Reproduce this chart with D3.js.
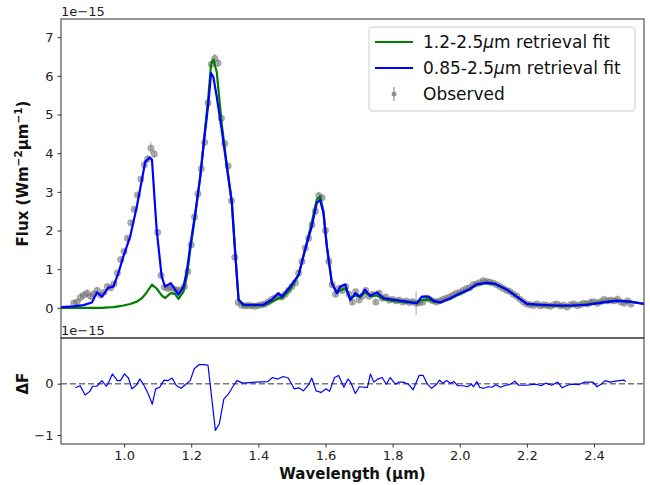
<!DOCTYPE html>
<html>
<head>
<meta charset="utf-8">
<script src="https://cdn.jsdelivr.net/npm/d3@7"></script>
<style>
  body { margin: 0; background: #fff; }
  svg { display: block; font-family: "DejaVu Sans", sans-serif; }
</style>
</head>
<body>
<div id="chart"></div>
<script>
// Data (flux in units of 1e-15 W m^-2 um^-1)

const obsWl = [
  0.85, 0.86, 0.87, 0.88, 0.89, 0.90, 0.91, 0.92, 0.93, 0.94,
  0.95, 0.96, 0.97, 0.98, 0.99, 1.00, 1.01, 1.02, 1.03, 1.04,
  1.05, 1.06, 1.07, 1.08, 1.09, 1.10, 1.11, 1.12, 1.13, 1.14,
  1.15, 1.16, 1.17, 1.18, 1.19, 1.20, 1.21, 1.22, 1.23, 1.24,
  1.25, 1.26, 1.27, 1.28, 1.29, 1.30, 1.31, 1.32, 1.33, 1.34,
  1.35, 1.36, 1.37, 1.38, 1.39, 1.40, 1.41, 1.42, 1.43, 1.44,
  1.45, 1.46, 1.47, 1.48, 1.49, 1.50, 1.51, 1.52, 1.53, 1.54,
  1.55, 1.56, 1.57, 1.58, 1.59, 1.60, 1.61, 1.62, 1.63, 1.64,
  1.65, 1.66, 1.67, 1.68, 1.69, 1.70, 1.71, 1.72, 1.73, 1.74,
  1.75, 1.76, 1.77, 1.78, 1.79, 1.80, 1.81, 1.82, 1.83, 1.84,
  1.85, 1.86, 1.87, 1.88, 1.89, 1.90, 1.91, 1.92, 1.93, 1.94,
  1.95, 1.96, 1.97, 1.98, 1.99, 2.00, 2.01, 2.02, 2.03, 2.04,
  2.05, 2.06, 2.07, 2.08, 2.09, 2.10, 2.11, 2.12, 2.13, 2.14,
  2.15, 2.16, 2.17, 2.18, 2.19, 2.20, 2.21, 2.22, 2.23, 2.24,
  2.25, 2.26, 2.27, 2.28, 2.29, 2.30, 2.31, 2.32, 2.33, 2.34,
  2.35, 2.36, 2.37, 2.38, 2.39, 2.40, 2.41, 2.42, 2.43, 2.44,
  2.45, 2.46, 2.47, 2.48, 2.49, 2.50, 2.51
];

const obsFlux = [
  0.12, 0.15, 0.27, 0.33, 0.38, 0.30, 0.36, 0.45, 0.33, 0.40,
  0.55, 0.52, 0.62, 0.90, 1.25, 1.46, 1.80, 2.20, 2.55, 2.92,
  3.33, 3.70, 3.85, 4.13, 3.98, 1.95, 0.84, 0.53, 0.50, 0.52,
  0.48, 0.45, 0.47, 0.55, 0.94, 1.63, 2.35, 2.95, 3.60, 4.28,
  5.30, 6.30, 6.45, 6.33, 4.90, 4.25, 3.67, 2.77, 1.31, 0.14,
  0.07, 0.05, 0.06, 0.05, 0.04, 0.06, 0.08, 0.10, 0.15, 0.22,
  0.26, 0.30, 0.28, 0.35, 0.45, 0.55, 0.65, 0.90, 1.20, 1.55,
  1.80, 2.15, 2.50, 2.90, 2.85, 2.00, 1.20, 0.60, 0.35, 0.50,
  0.45, 0.55, 0.35, 0.15, 0.42, 0.20, 0.30, 0.45, 0.30, 0.35,
  0.15, 0.38, 0.25, 0.28, 0.20, 0.22, 0.18, 0.20, 0.15, 0.18,
  0.14, 0.16, 0.12, 0.13, 0.15, 0.25, 0.22, 0.18, 0.15, 0.18,
  0.22, 0.25, 0.28, 0.33, 0.38, 0.40, 0.45, 0.50, 0.52, 0.60,
  0.62, 0.65, 0.70, 0.68, 0.66, 0.64, 0.60, 0.55, 0.50, 0.45,
  0.42, 0.35, 0.30, 0.22, 0.15, 0.10, 0.08, 0.06, 0.10, 0.05,
  0.08, 0.06, 0.04, 0.08, 0.10, 0.05, 0.07, 0.02, 0.08, 0.10,
  0.06, 0.08, 0.12, 0.10, 0.14, 0.16, 0.12, 0.16, 0.22, 0.18,
  0.20, 0.18, 0.22, 0.15, 0.12, 0.18, 0.10
];

const obsErr = [
  0.08, 0.08, 0.10, 0.10, 0.10, 0.08, 0.08, 0.08, 0.06, 0.06,
  0.05, 0.05, 0.05, 0.05, 0.05, 0.05, 0.05, 0.05, 0.05, 0.05,
  0.06, 0.08, 0.10, 0.15, 0.10, 0.06, 0.05, 0.05, 0.05, 0.05,
  0.05, 0.05, 0.05, 0.05, 0.05, 0.05, 0.05, 0.05, 0.05, 0.05,
  0.08, 0.10, 0.12, 0.10, 0.08, 0.06, 0.06, 0.05, 0.05, 0.05,
  0.04, 0.04, 0.04, 0.04, 0.04, 0.04, 0.04, 0.04, 0.04, 0.04,
  0.05, 0.05, 0.05, 0.05, 0.05, 0.05, 0.05, 0.05, 0.05, 0.05,
  0.05, 0.05, 0.06, 0.10, 0.08, 0.05, 0.05, 0.05, 0.05, 0.05,
  0.05, 0.05, 0.05, 0.05, 0.05, 0.05, 0.05, 0.05, 0.05, 0.05,
  0.05, 0.05, 0.05, 0.05, 0.05, 0.05, 0.05, 0.05, 0.05, 0.05,
  0.05, 0.05, 0.30, 0.05, 0.05, 0.05, 0.05, 0.05, 0.05, 0.05,
  0.04, 0.04, 0.04, 0.04, 0.04, 0.04, 0.04, 0.04, 0.04, 0.04,
  0.04, 0.04, 0.04, 0.04, 0.04, 0.04, 0.04, 0.04, 0.04, 0.04,
  0.04, 0.04, 0.04, 0.04, 0.04, 0.04, 0.04, 0.04, 0.04, 0.04,
  0.04, 0.04, 0.04, 0.04, 0.04, 0.04, 0.04, 0.04, 0.04, 0.04,
  0.04, 0.04, 0.04, 0.04, 0.10, 0.04, 0.04, 0.04, 0.04, 0.04,
  0.04, 0.04, 0.10, 0.04, 0.04, 0.04, 0.04
];

const modelWl = [
  0.812, 0.850, 0.879, 0.904, 0.919, 0.934, 0.953, 0.968, 0.983, 0.998,
  1.018, 1.038, 1.053, 1.063, 1.077, 1.083, 1.097, 1.112, 1.122, 1.139,
  1.152, 1.162, 1.177, 1.187, 1.197, 1.212, 1.227, 1.238, 1.251, 1.259,
  1.266, 1.276, 1.291, 1.306, 1.321, 1.331, 1.341, 1.356, 1.415, 1.440,
  1.460, 1.470, 1.495, 1.520, 1.539, 1.559, 1.574, 1.584, 1.594, 1.604,
  1.619, 1.634, 1.644, 1.659, 1.674, 1.689, 1.703, 1.718, 1.733, 1.753,
  1.773, 1.803, 1.843, 1.872, 1.887, 1.907, 1.922, 1.942, 1.972, 2.001,
  2.026, 2.051, 2.081, 2.106, 2.141, 2.170, 2.200, 2.240, 2.290, 2.339,
  2.379, 2.429, 2.468, 2.508, 2.549
];

// 0.85-2.5um retrieval fit
const fitFull = [
  0.02, 0.04, 0.07, 0.14, 0.40, 0.29, 0.52, 0.55, 0.90, 1.33,
  1.84, 2.62, 3.31, 3.78, 3.89, 3.83, 2.02, 0.81, 0.55, 0.64,
  0.47, 0.34, 0.55, 0.95, 1.59, 2.45, 3.40, 4.30, 5.29, 6.07,
  5.97, 5.46, 4.60, 3.65, 2.71, 1.41, 0.21, 0.08, 0.08, 0.21,
  0.38, 0.29, 0.55, 0.85, 1.50, 2.10, 2.71, 2.79, 2.45, 1.59,
  0.64, 0.38, 0.55, 0.60, 0.20, 0.38, 0.29, 0.47, 0.31, 0.40,
  0.25, 0.21, 0.16, 0.12, 0.29, 0.29, 0.18, 0.14, 0.25, 0.38,
  0.47, 0.61, 0.65, 0.62, 0.47, 0.29, 0.10, 0.08, 0.06, 0.06,
  0.08, 0.14, 0.18, 0.16, 0.10
];

// 1.2-2.5um retrieval fit
const fitRed = [
  0.00, 0.00, 0.00, 0.00, 0.00, 0.00, 0.01, 0.02, 0.04, 0.06,
  0.10, 0.16, 0.25, 0.35, 0.52, 0.60, 0.50, 0.32, 0.25, 0.38,
  0.36, 0.23, 0.42, 0.81, 1.50, 2.40, 3.40, 4.35, 5.45, 6.30,
  6.42, 6.10, 4.75, 3.70, 2.75, 1.45, 0.21, 0.06, 0.06, 0.15,
  0.25, 0.25, 0.48, 0.85, 1.50, 2.20, 2.80, 2.88, 2.50, 1.60,
  0.65, 0.38, 0.45, 0.50, 0.25, 0.32, 0.28, 0.40, 0.30, 0.32,
  0.22, 0.18, 0.14, 0.12, 0.20, 0.22, 0.16, 0.14, 0.24, 0.36,
  0.46, 0.60, 0.64, 0.61, 0.47, 0.29, 0.10, 0.07, 0.05, 0.06,
  0.09, 0.15, 0.19, 0.16, 0.10
];

// Residual of the 0.85-2.5um fit
const resWl = [
  0.855, 0.869, 0.884, 0.898, 0.906, 0.919, 0.934, 0.947, 0.953, 0.965,
  0.980, 0.989, 1.001, 1.013, 1.023, 1.035, 1.047, 1.060, 1.072, 1.084,
  1.094, 1.106, 1.119, 1.131, 1.143, 1.156, 1.170, 1.182, 1.197, 1.209,
  1.223, 1.238, 1.250, 1.272, 1.284, 1.297, 1.311, 1.323, 1.336, 1.354,
  1.391, 1.428, 1.442, 1.458, 1.474, 1.489, 1.507, 1.520, 1.534, 1.550,
  1.559, 1.572, 1.587, 1.602, 1.612, 1.627, 1.639, 1.655, 1.667, 1.675,
  1.689, 1.701, 1.716, 1.725, 1.734, 1.744, 1.756, 1.769, 1.781, 1.793,
  1.808, 1.818, 1.832, 1.847, 1.861, 1.879, 1.891, 1.904, 1.916, 1.931,
  1.940, 1.949, 1.961, 1.973, 1.983, 1.994, 2.010, 2.023, 2.035, 2.041,
  2.051, 2.059, 2.071, 2.084, 2.096, 2.108, 2.121, 2.133, 2.151, 2.164,
  2.176, 2.200, 2.225, 2.243, 2.256, 2.274, 2.292, 2.305, 2.321, 2.335,
  2.354, 2.372, 2.397, 2.409, 2.421, 2.433, 2.448, 2.464, 2.476, 2.489,
  2.495
];

const resVal = [
  -0.08, -0.04, -0.22, -0.15, -0.05, -0.05, 0.06, -0.05, 0.01, 0.19,
  0.06, 0.06, 0.19, 0.11, -0.10, -0.04, 0.09, -0.04, -0.20, -0.40,
  -0.10, -0.07, 0.07, 0.06, 0.11, -0.04, -0.09, -0.02, 0.06, 0.29,
  0.37, 0.37, 0.36, -0.91, -0.78, -0.30, -0.20, -0.07, 0.06, 0.01,
  0.03, 0.04, 0.12, 0.09, 0.14, 0.11, -0.10, -0.08, -0.14, -0.02,
  0.11, -0.14, -0.17, -0.10, -0.15, 0.12, 0.16, -0.07, 0.09, 0.03,
  -0.19, -0.06, -0.07, -0.07, 0.19, 0.03, 0.09, 0.12, -0.01, 0.12,
  -0.01, 0.03, 0.03, -0.01, -0.12, 0.16, 0.16, -0.01, -0.09, -0.01,
  0.07, 0.01, 0.06, 0.01, 0.04, -0.04, -0.04, -0.06, -0.01, -0.06,
  0.04, -0.07, -0.09, -0.06, -0.07, -0.02, -0.07, -0.04, -0.01, 0.05,
  -0.03, -0.03, -0.01, -0.04, 0.01, -0.03, 0.03, -0.08, -0.03, -0.01,
  -0.02, 0.03, 0.03, -0.06, -0.01, 0.06, 0.03, 0.05, 0.06, 0.07,
  0.04
];

// Axis settings

const xDomain = [0.812, 2.549];
const fluxDomain = [-0.78, 7.47];
const resDomain = [-1.175, 0.89];
const wlTicks = [1.0, 1.2, 1.4, 1.6, 1.8, 2.0, 2.2, 2.4];
const fluxTicks = [0, 1, 2, 3, 4, 5, 6, 7];
const resTicks = [-1, 0];

const legendItems = [
  { label: "1.2-2.5", color: "#007f00", kind: "line" },
  { label: "0.85-2.5", color: "#0000ff", kind: "line" },
  { label: "Observed", color: "#808080", kind: "err" }
];

// Config

const width = 650;
const height = 485;
const left = 61, right = 644;
const topPanel = { y0: 19, y1: 338 };
const botPanel = { y0: 338, y1: 444 };
const minus = s => s.replace("-", "\u2212");

const svg = d3.select("#chart")
  .append("svg")
  .attr("width", width)
  .attr("height", height)
  .attr("viewBox", [0, 0, width, height]);

// Scales

const xScale = d3.scaleLinear().domain(xDomain).range([left, right]);
const yFlux = d3.scaleLinear().domain(fluxDomain).range([topPanel.y1, topPanel.y0]);
const yRes = d3.scaleLinear().domain(resDomain).range([botPanel.y1, botPanel.y0]);

svg.append("clipPath").attr("id", "clipTop")
  .append("rect").attr("x", left).attr("y", topPanel.y0)
  .attr("width", right - left).attr("height", topPanel.y1 - topPanel.y0);
svg.append("clipPath").attr("id", "clipBot")
  .append("rect").attr("x", left).attr("y", botPanel.y0)
  .attr("width", right - left).attr("height", botPanel.y1 - botPanel.y0);

// Top panel: observed spectrum

const obs = obsWl.map((w, i) => ({ w: w, f: obsFlux[i], e: obsErr[i] }));

const gTop = svg.append("g").attr("clip-path", "url(#clipTop)");

gTop.selectAll("line.err")
  .data(obs)
  .join("line")
  .attr("class", "err")
  .attr("x1", d => xScale(d.w)).attr("x2", d => xScale(d.w))
  .attr("y1", d => yFlux(d.f - d.e)).attr("y2", d => yFlux(d.f + d.e))
  .attr("stroke", "#808080")
  .attr("stroke-opacity", 0.7)
  .attr("stroke-width", 1);

gTop.selectAll("circle.dot")
  .data(obs)
  .join("circle")
  .attr("class", "dot")
  .attr("cx", d => xScale(d.w))
  .attr("cy", d => yFlux(d.f))
  .attr("r", 3.2)
  .attr("fill", "#707070")
  .attr("fill-opacity", 0.55)
  .attr("stroke", "#505050")
  .attr("stroke-opacity", 0.35)
  .attr("stroke-width", 0.8);

// Model fits

const fitLine = d3.line()
  .x(d => xScale(d[0]))
  .y(d => yFlux(d[1]));

gTop.append("path")
  .datum(modelWl.map((w, i) => [w, fitRed[i]]))
  .attr("d", fitLine)
  .attr("fill", "none")
  .attr("stroke", legendItems[0].color)
  .attr("stroke-width", 2.2)
  .attr("stroke-linejoin", "round");

gTop.append("path")
  .datum(modelWl.map((w, i) => [w, fitFull[i]]))
  .attr("d", fitLine)
  .attr("fill", "none")
  .attr("stroke", legendItems[1].color)
  .attr("stroke-width", 2.2)
  .attr("stroke-linejoin", "round");

// Bottom panel: residuals

const gBot = svg.append("g").attr("clip-path", "url(#clipBot)");

gBot.append("line")
  .attr("x1", left).attr("x2", right)
  .attr("y1", yRes(0)).attr("y2", yRes(0))
  .attr("stroke", "#777")
  .attr("stroke-width", 1.5)
  .attr("stroke-dasharray", "6,3");

gBot.append("path")
  .datum(resWl.map((w, i) => [w, resVal[i]]))
  .attr("d", d3.line().x(d => xScale(d[0])).y(d => yRes(d[1])))
  .attr("fill", "none")
  .attr("stroke", "#0000ff")
  .attr("stroke-width", 1.2)
  .attr("stroke-linejoin", "round");

// Axes

const tickColor = "#222";

function styleAxis(g) {
  g.select(".domain").remove();
  g.selectAll(".tick line").attr("stroke", "#333");
  g.selectAll(".tick text")
    .attr("fill", tickColor)
    .style("font-size", "13px")
    .style("font-family", "'DejaVu Sans', sans-serif");
}

svg.append("g")
  .attr("transform", "translate(" + left + ",0)")
  .call(d3.axisLeft(yFlux).tickValues(fluxTicks).tickSize(3.5).tickPadding(4).tickFormat(d3.format("d")))
  .call(styleAxis);

svg.append("g")
  .attr("transform", "translate(" + left + ",0)")
  .call(d3.axisLeft(yRes).tickValues(resTicks).tickSize(3.5).tickPadding(4).tickFormat(d => minus(String(d))))
  .call(styleAxis);

svg.append("g")
  .attr("transform", "translate(0," + botPanel.y1 + ")")
  .call(d3.axisBottom(xScale).tickValues(wlTicks).tickSize(3.5).tickPadding(3.5).tickFormat(d3.format(".1f")))
  .call(styleAxis);

// Frames

[topPanel, botPanel].forEach(p => {
  svg.append("rect")
    .attr("x", left).attr("y", p.y0)
    .attr("width", right - left).attr("height", p.y1 - p.y0)
    .attr("fill", "none")
    .attr("stroke", "#333")
    .attr("stroke-width", 1);
});

// Offset texts

[16, 335].forEach(y => {
  svg.append("text")
    .attr("x", left)
    .attr("y", y)
    .attr("fill", tickColor)
    .style("font-size", "13px")
    .text(minus("1e-15"));
});

// Axis labels

svg.append("text")
  .attr("x", (left + right) / 2)
  .attr("y", 479)
  .attr("text-anchor", "middle")
  .attr("fill", "#111")
  .style("font-size", "15px")
  .style("font-weight", "bold")
  .text("Wavelength (\u00b5m)");

const yLab = svg.append("text")
  .attr("transform", "translate(28," + ((topPanel.y0 + topPanel.y1) / 2 - 5) + ") rotate(-90)")
  .attr("text-anchor", "middle")
  .attr("fill", "#111")
  .style("font-size", "15px")
  .style("font-weight", "bold");
yLab.append("tspan").text("Flux (Wm");
yLab.append("tspan").attr("dy", -6).style("font-size", "10.5px").text("\u22122");
yLab.append("tspan").attr("dy", 6).text("\u00b5m");
yLab.append("tspan").attr("dy", -6).style("font-size", "10.5px").text("\u22121");
yLab.append("tspan").attr("dy", 6).text(")");

svg.append("text")
  .attr("transform", "translate(28," + yRes(0) + ") rotate(-90)")
  .attr("text-anchor", "middle")
  .attr("fill", "#111")
  .style("font-size", "15px")
  .style("font-weight", "bold")
  .text("\u0394F");

// Legend

const legend = svg.append("g").attr("transform", "translate(369,27)");

legend.append("rect")
  .attr("width", 266).attr("height", 84)
  .attr("rx", 3)
  .attr("fill", "#fff")
  .attr("fill-opacity", 0.8)
  .attr("stroke", "#ccc")
  .attr("stroke-width", 1);

legendItems.forEach((item, i) => {
  const y = 15 + i * 26;
  if (item.kind === "line") {
    legend.append("line")
      .attr("x1", 6).attr("x2", 44).attr("y1", y).attr("y2", y)
      .attr("stroke", item.color).attr("stroke-width", 2);
  } else {
    legend.append("line")
      .attr("x1", 25).attr("x2", 25).attr("y1", y - 7).attr("y2", y + 7)
      .attr("stroke", item.color).attr("stroke-width", 1);
    legend.append("circle")
      .attr("cx", 25).attr("cy", y).attr("r", 2.5)
      .attr("fill", "#707070").attr("fill-opacity", 0.7);
  }
  const t = legend.append("text")
    .attr("x", 54).attr("y", y + 6)
    .attr("fill", "#111")
    .style("font-size", "17px");
  if (item.kind === "line") {
    t.append("tspan").text(item.label);
    t.append("tspan").style("font-style", "italic").text("\u03bc");
    t.append("tspan").text("m retrieval fit");
  } else {
    t.text(item.label);
  }
});
</script>
</body>
</html>
